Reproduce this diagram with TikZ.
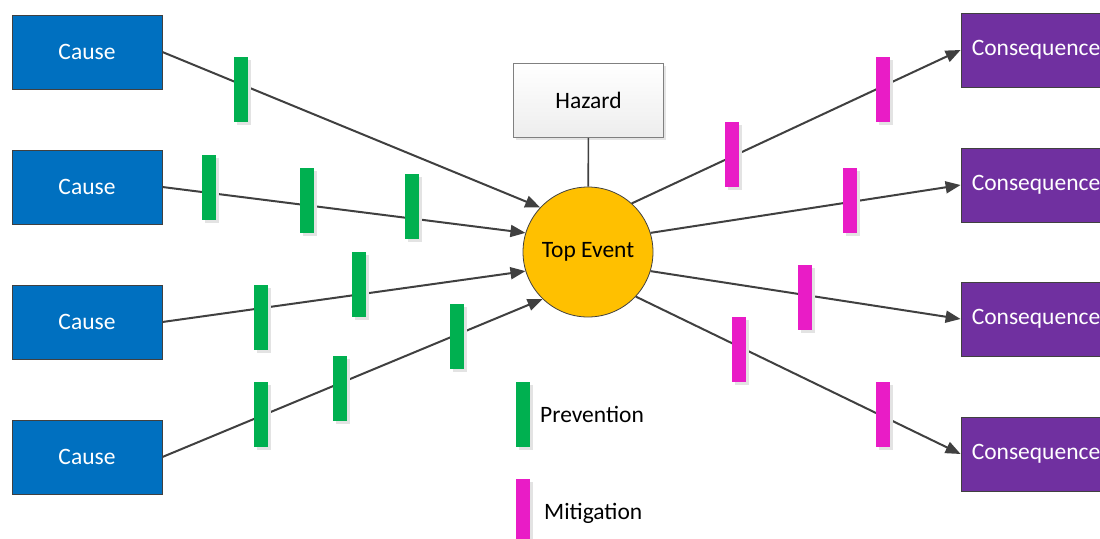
\documentclass[tikz,border=0pt]{standalone}
\usepackage{fontspec}
\setmainfont{Carlito}
\usetikzlibrary{arrows.meta,shadows}

\definecolor{causeblue}{HTML}{0070C0}
\definecolor{conspurple}{HTML}{7030A0}
\definecolor{topyellow}{HTML}{FFC000}
\definecolor{prevgreen}{HTML}{00B050}
\definecolor{mitmagenta}{HTML}{E91CC6}
\definecolor{linegray}{HTML}{404040}

\tikzset{
  every node/.style={font=\fontsize{23.5}{28}\selectfont},
  box/.style={draw=linegray, line width=0.8pt, minimum width=150pt, minimum height=74pt, inner sep=0pt},
  cause/.style={box, fill=causeblue, text=white},
  conseq/.style={box, fill=conspurple, text=white},
  hazard/.style={box, draw=gray, top color=white, bottom color=black!7,
    drop shadow={shadow xshift=2pt, shadow yshift=-2pt, fill=black!10, opacity=1}},
  topevent/.style={circle, draw=linegray, line width=0.8pt, fill=topyellow, minimum size=130pt, inner sep=0pt},
  link/.style={draw=linegray, line width=2pt},
  arrowlink/.style={link, -{Triangle[length=15pt,width=12pt]}},
  barrier/.style={minimum width=14pt, minimum height=65pt, inner sep=0pt,
    drop shadow={shadow xshift=3pt, shadow yshift=-3pt, fill=black!11, opacity=1}},
  prev/.style={barrier, fill=prevgreen},
  mitig/.style={barrier, fill=mitmagenta}
}

\begin{document}
\begin{tikzpicture}[x=1pt, y=-1pt]
\clip (0,0) rectangle (1100,538);

% top event and hazard
\node[topevent] (top) at (588,252) {Top Event};
\node[hazard] (haz) at (588.5,100.5) {Hazard};
\draw[link, line width=1.6pt] (haz) -- (top);

% causes
\node[cause] (c1) at (87,52) {Cause};
\node[cause] (c2) at (87,187) {Cause};
\node[cause] (c3) at (87,322) {Cause};
\node[cause] (c4) at (87,457) {Cause};

% consequences
\node[conseq] (q1) at (1036,50) {Consequence};
\node[conseq] (q2) at (1036,185) {Consequence};
\node[conseq] (q3) at (1036,319) {Consequence};
\node[conseq] (q4) at (1036,454) {Consequence};

\draw[arrowlink] (c1.east) -- (top.137);
\draw[arrowlink] (c2.east) -- (top.163);
\draw[arrowlink] (c3.east) -- (top.197);
\draw[arrowlink] (c4.east) -- (top.226);

\draw[arrowlink] (top.48) -- (q1.west);
\draw[arrowlink] (top.17) -- (q2.west);
\draw[arrowlink] (top.-17) -- (q3.west);
\draw[arrowlink] (top.-43) -- (q4.west);

% barriers
\foreach \x/\y [count=\i] in {241/89.5, 209/187.5, 307/200.5, 412/206.5,
    261/317.5, 359/284.5, 261/414.5, 340/388.5, 457/336.5}
  \node[prev] (p\i) at (\x,\y) {};
\foreach \x/\y [count=\i] in {883/89.5, 732/154.5, 850/200.5,
    805/297.5, 739/349.5, 883/414.5}
  \node[mitig] (m\i) at (\x,\y) {};

% legend
\node[prev] (lp) at (523,414.5) {};
\node[mitig] (lm) at (523,511.5) {};
\node[anchor=base west, inner sep=0pt] (lpt) at (540,422) {Prevention};
\node[anchor=base west, inner sep=0pt] (lmt) at (544,519) {Mitigation};
\end{tikzpicture}
\end{document}
